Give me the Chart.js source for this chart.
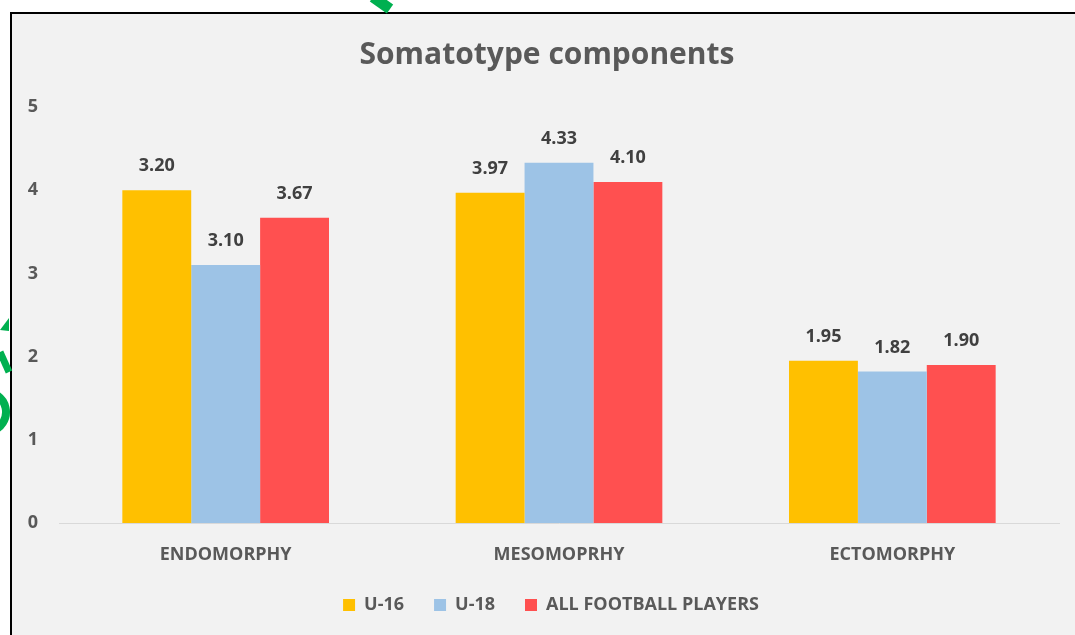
<!DOCTYPE html>
<html>
<head>
<meta charset="utf-8">
<script src="https://cdn.jsdelivr.net/npm/chart.js@4"></script>
<style>
  html, body { margin: 0; padding: 0; background: #ffffff; }
  #wrap { position: relative; width: 1075px; height: 635px; }
  canvas { display: block; }
</style>
</head>
<body>
<div id="wrap"><canvas id="c" width="1075" height="635"></canvas></div>
<script>
const categories = ["ENDOMORPHY", "MESOMOPRHY", "ECTOMORPHY"];
const seriesNames = ["U-16", "U-18", "ALL FOOTBALL PLAYERS"];
const u16Values = [4.00, 3.97, 1.95];
const u18Values = [3.10, 4.33, 1.82];
const allValues = [3.67, 4.10, 1.90];
const u16Labels = ["3.20", "3.97", "1.95"];
const u18Labels = ["3.10", "4.33", "1.82"];
const allLabels = ["3.67", "4.10", "1.90"];
const yTicks = [0, 1, 2, 3, 4, 5];
const colors = ["#FFC000", "#9DC3E6", "#FF5050"];

const FONT = "'Open Sans', sans-serif";
const TEXT = "#595959";

const framePlugin = {
  id: "frame",
  afterLayout(chart) {
    // centre title and legend on the whole frame rather than the padded box
    if (chart.titleBlock) { chart.titleBlock.left += 12; chart.titleBlock.right += 12; }
    if (chart.legend) { chart.legend.left += 16; chart.legend.right += 16; }
  },
  beforeDraw(chart) {
    const ctx = chart.ctx;
    ctx.save();
    ctx.fillStyle = "#ffffff";
    ctx.fillRect(0, 0, chart.width, chart.height);
    ctx.fillStyle = "#f2f2f2";
    ctx.fillRect(11, 13, chart.width - 11, chart.height - 13);
    ctx.fillStyle = "#000000";
    ctx.fillRect(10, 12, chart.width - 10, 2);
    ctx.fillRect(10, 12, 2, chart.height - 12);
    // scan artifacts (green marks outside frame)
    ctx.strokeStyle = "#00B050";
    ctx.fillStyle = "#00B050";
    ctx.lineWidth = 11;
    ctx.beginPath();
    ctx.moveTo(373, -3);
    ctx.lineTo(390, 9);
    ctx.stroke();
    ctx.beginPath();
    ctx.moveTo(0, 330);
    ctx.lineTo(9, 318);
    ctx.lineTo(9, 331);
    ctx.closePath();
    ctx.fill();
    ctx.lineWidth = 7;
    ctx.beginPath();
    ctx.moveTo(0, 352);
    ctx.lineTo(9, 372);
    ctx.stroke();
    ctx.lineWidth = 8;
    ctx.beginPath();
    ctx.arc(-14, 412, 20, -1.0, 1.1);
    ctx.stroke();
    ctx.restore();
  }
};

const labelPlugin = {
  id: "valueLabels",
  afterDatasetsDraw(chart) {
    const ctx = chart.ctx;
    const labelSets = [u16Labels, u18Labels, allLabels];
    ctx.save();
    ctx.font = "bold 18px " + FONT;
    ctx.fillStyle = "#404040";
    ctx.textAlign = "center";
    ctx.textBaseline = "middle";
    chart.data.datasets.forEach((ds, i) => {
      const meta = chart.getDatasetMeta(i);
      meta.data.forEach((bar, j) => {
        ctx.fillText(labelSets[i][j], bar.x, bar.y - 24);
      });
    });
    ctx.restore();
  }
};

new Chart(document.getElementById("c"), {
  type: "bar",
  data: {
    labels: categories,
    datasets: [
      { label: seriesNames[0], data: u16Values, backgroundColor: colors[0] },
      { label: seriesNames[1], data: u18Values, backgroundColor: colors[1] },
      { label: seriesNames[2], data: allValues, backgroundColor: colors[2] }
    ]
  },
  options: {
    responsive: false,
    animation: false,
    devicePixelRatio: 1,
    layout: { padding: { left: 11, right: 16, top: 10, bottom: 11 } },
    datasets: { bar: { categoryPercentage: 0.62, barPercentage: 1.0 } },
    plugins: {
      title: {
        display: true,
        text: "Somatotype components",
        color: TEXT,
        font: { family: FONT, size: 30, weight: "bold" },
        padding: { top: 27, bottom: 34 }
      },
      legend: {
        position: "bottom",
        labels: {
          color: TEXT,
          font: { family: FONT, size: 18, weight: "bold" },
          boxWidth: 12,
          boxHeight: 12,
          padding: 30
        }
      },
      tooltip: { enabled: false }
    },
    scales: {
      x: {
        afterFit(scale) { scale.height = 43; },
        grid: { display: false, drawTicks: false },
        border: { display: true, color: "#d9d9d9", width: 1 },
        ticks: {
          color: TEXT,
          font: { family: FONT, size: 18, weight: "bold" },
          padding: 21
        }
      },
      y: {
        min: 0,
        max: 5,
        afterBuildTicks(scale) { scale.ticks = yTicks.map(v => ({ value: v })); },
        afterFit(scale) { scale.width = 48; },
        grid: { display: false, drawTicks: false },
        border: { display: false },
        ticks: {
          color: TEXT,
          font: { family: FONT, size: 18, weight: "bold" },
          padding: 21
        }
      }
    }
  },
  plugins: [framePlugin, labelPlugin]
});
</script>
</body>
</html>
